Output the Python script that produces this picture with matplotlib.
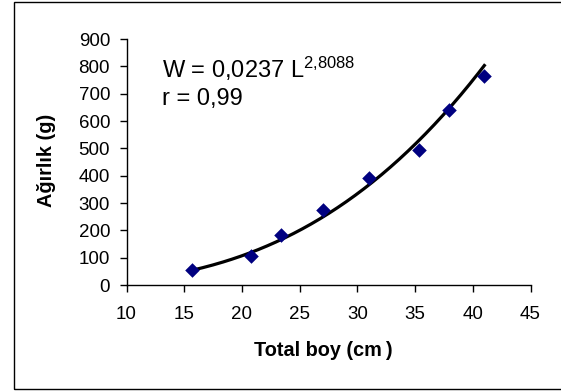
import numpy as np
import matplotlib
matplotlib.use("Agg")
import matplotlib.pyplot as plt
from matplotlib.patches import Rectangle

plt.rcParams['font.family'] = ['Liberation Sans', 'DejaVu Sans']
plt.rcParams['mathtext.fontset'] = 'custom'
plt.rcParams['mathtext.rm'] = 'Liberation Sans'
plt.rcParams['mathtext.it'] = 'Liberation Sans'

# Data
total_boy = [15.7, 20.8, 23.4, 27.0, 31.0, 35.3, 37.9, 41.0]
agirlik = [55, 105, 183, 275, 390, 493, 640, 763]
# Trendline coefficients shown on the chart (W = a L^b)
coef_a = 0.0237
coef_b = 2.8088
x_ticks = [10, 15, 20, 25, 30, 35, 40, 45]
y_ticks = [0, 100, 200, 300, 400, 500, 600, 700, 800, 900]

W, H = 561, 391
fig = plt.figure(figsize=(W / 100, H / 100), dpi=100)
ax = fig.add_axes([126.5 / W, (H - 285) / H, 404 / W, 246 / H])

L = np.linspace(min(total_boy), max(total_boy), 200)
ax.plot(L, coef_a * L ** coef_b, color='black', lw=2.3, zorder=2)
ax.scatter(total_boy, agirlik, marker='D', s=55, color='#000080', zorder=3, linewidths=0)

ax.set_xlim(10, 45)
ax.set_ylim(0, 900)
ax.set_xticks(x_ticks)
ax.set_yticks(y_ticks)
ax.tick_params(direction='out', length=5, width=1, labelsize=13.5, colors='black')
ax.tick_params(axis='x', pad=10.2)
ax.tick_params(axis='y', pad=6.8)
for s in ['top', 'right']:
    ax.spines[s].set_visible(False)
for s in ['left', 'bottom']:
    ax.spines[s].set_color('black')
    ax.spines[s].set_linewidth(1)

fig.text(323 / W, (H - 356) / H, 'Total boy (cm\u2009)', fontsize=14.3, fontweight='bold',
         ha='center', va='baseline')
fig.text(46 / W, (H - 160.5) / H, 'Ağırlık (g)', fontsize=14.3, fontweight='bold',
         ha='center', va='center', rotation=90)

ax.text(13.05, 756, r'W = 0,0237 L$^{2{,}8088}$', fontsize=17, va='baseline', ha='left')
ax.text(13.05, 658, 'r = 0,99', fontsize=17, va='baseline', ha='left')

fig.patches.append(Rectangle((14 / W, 2 / H), 1.0, 387 / H, transform=fig.transFigure,
                             fill=False, edgecolor='black', lw=1))

fig.savefig('out.png', dpi=100)
